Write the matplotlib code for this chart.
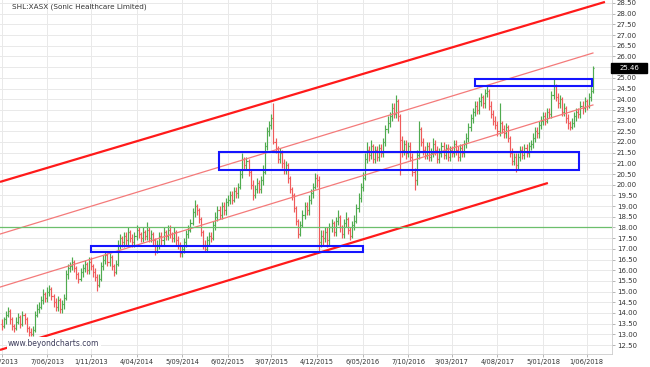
import matplotlib
matplotlib.use("Agg")
import matplotlib.pyplot as plt
import matplotlib.transforms as mtransforms
from matplotlib.patches import Rectangle
from matplotlib.collections import LineCollection
import numpy as np
import pandas as pd

plt.rcParams['font.family'] = ['DejaVu Sans']

# ---------------- data (weekly bars, SHL:XASX) ----------------
first_week = '2013-01-04'
close = [
    13.4, 13.7, 13.9, 14.1, 13.7, 13.4, 13.3, 13.6, 13.8, 13.5,
    13.9, 13.7, 13.3, 13.1, 13.0, 13.2, 13.9, 14.2, 14.3, 14.6,
    14.9, 14.7, 15.0, 15.1, 14.8, 14.5, 14.3, 14.6, 14.2, 14.4,
    14.7, 15.8, 16.1, 16.2, 16.4, 16.1, 15.8, 15.6, 15.9, 16.1,
    16.3, 16.0, 16.4, 16.2, 15.9, 15.7, 15.3, 15.6, 16.2, 16.5,
    16.7, 16.4, 16.6, 16.2, 15.9, 16.3, 17.2, 17.5, 17.3, 17.6,
    17.4, 17.8, 17.5, 17.3, 17.6, 17.9, 17.7, 17.5, 17.8, 17.6,
    17.9, 17.5, 17.7, 17.4, 16.9, 17.2, 17.6, 17.4, 17.8, 17.6,
    17.9, 17.7, 17.5, 17.8, 17.4, 17.2, 16.8, 17.0, 17.3, 17.7,
    17.9, 18.2, 18.7, 19.0, 18.8, 18.4, 17.8, 17.2, 17.0, 17.4,
    17.6, 17.5, 18.1, 18.5, 18.8, 18.6, 19.0, 18.8, 19.2, 19.3,
    19.5, 19.3, 19.7, 19.6, 19.9, 20.5, 21.2, 20.9, 21.1, 20.6,
    20.0, 19.5, 19.8, 20.1, 19.8, 20.2, 20.6, 21.8, 22.5, 22.8,
    23.1, 22.0, 21.7, 21.2, 21.5, 21.0, 20.7, 20.9, 20.3, 19.8,
    19.5, 18.9, 18.3, 17.7, 18.1, 18.6, 19.0, 18.8, 19.3, 19.6,
    19.9, 20.3, 20.2, 17.3, 17.6, 17.5, 17.8, 17.4, 18.0, 18.2,
    17.8, 18.3, 18.5, 18.0, 17.7, 18.2, 18.4, 17.9, 17.6, 18.1,
    18.3, 18.9, 19.4, 19.9, 20.3, 21.2, 21.6, 21.4, 21.8, 21.2,
    21.6, 21.3, 21.7, 21.5, 22.0, 22.6, 22.9, 23.2, 23.6, 23.3,
    23.9, 23.2, 22.1, 21.6, 21.9, 21.5, 21.8, 21.3, 20.6, 20.2,
    21.4, 22.6, 22.0, 21.6, 21.4, 21.8, 21.3, 21.5, 21.9, 21.6,
    21.2, 21.5, 21.8, 21.4, 21.7, 21.3, 21.6, 21.5, 21.9, 21.6,
    21.3, 21.7, 21.5, 21.9, 22.2, 22.7, 23.1, 23.4, 23.7, 23.5,
    23.9, 24.1, 23.8, 24.3, 24.4, 23.7, 23.3, 23.0, 22.8, 22.5,
    22.9, 22.6, 22.4, 22.7, 22.2, 21.5, 21.1, 21.3, 20.9, 21.3,
    21.6, 21.4, 21.7, 21.5, 21.8, 21.9, 22.2, 22.5, 22.4, 22.8,
    23.0, 23.2, 23.0, 23.4, 23.3, 24.2, 24.6, 24.1, 23.8, 24.0,
    23.4, 23.6, 23.1, 22.9, 22.7, 22.9, 23.2, 23.4, 23.3, 23.7,
    23.6, 23.9, 23.7, 24.1, 24.4, 25.46,
]
high = [
    13.7, 13.8, 14.1, 14.3, 14.2, 13.8, 13.5, 13.8, 14.0, 13.9,
    14.1, 14.0, 13.8, 13.4, 13.3, 13.4, 14.1, 14.4, 14.5, 14.8,
    15.1, 15.0, 15.2, 15.3, 15.2, 14.9, 14.7, 14.8, 14.7, 14.6,
    14.9, 16.0, 16.3, 16.4, 16.6, 16.5, 16.2, 15.9, 16.1, 16.3,
    16.5, 16.4, 16.6, 16.6, 16.3, 16.1, 15.8, 15.8, 16.4, 16.7,
    16.9, 16.8, 16.8, 16.7, 16.3, 16.5, 17.4, 17.7, 17.6, 17.8,
    17.8, 18.0, 17.9, 17.7, 17.8, 18.1, 18.0, 17.8, 18.0, 17.9,
    18.25, 18.0, 17.9, 17.8, 17.5, 17.4, 17.8, 17.8, 18.0, 17.9,
    18.1, 18.1, 17.8, 18.0, 17.9, 17.6, 17.3, 17.2, 17.5, 17.9,
    18.1, 18.4, 18.9, 19.3, 19.1, 18.9, 18.5, 17.9, 17.4, 17.6,
    17.8, 17.8, 18.3, 18.7, 19.0, 19.0, 19.2, 19.2, 19.4, 19.5,
    19.7, 19.7, 19.9, 19.9, 20.1, 20.7, 21.5, 21.3, 21.3, 21.2,
    20.7, 20.2, 20.0, 20.3, 20.2, 20.4, 20.9, 22.0, 22.7, 23.0,
    23.3, 23.8, 22.2, 21.8, 21.7, 21.6, 21.2, 21.1, 21.0, 20.4,
    19.9, 19.6, 19.0, 18.4, 18.3, 18.8, 19.2, 19.2, 19.5, 19.8,
    20.1, 20.55, 20.5, 20.4, 17.9, 17.9, 18.0, 18.0, 18.2, 18.4,
    18.3, 18.5, 18.8, 18.6, 18.1, 18.4, 18.7, 18.5, 18.0, 18.3,
    18.6, 19.1, 19.6, 20.1, 20.6, 21.5, 22.0, 21.8, 22.1, 21.9,
    21.8, 21.8, 21.9, 21.9, 22.2, 22.8, 23.2, 23.4, 23.8, 23.8,
    24.2, 24.0, 23.3, 22.3, 22.1, 22.1, 22.0, 22.0, 21.5, 20.8,
    21.6, 23.0, 22.7, 22.2, 21.8, 22.0, 22.0, 21.7, 22.2, 22.1,
    21.8, 21.7, 22.0, 22.0, 21.9, 21.9, 21.8, 21.8, 22.1, 22.1,
    21.8, 21.9, 21.9, 22.1, 22.4, 22.9, 23.3, 23.6, 23.9, 23.9,
    24.1, 24.3, 24.2, 24.5, 24.6, 24.5, 23.9, 23.5, 23.2, 23.0,
    23.8, 23.0, 22.8, 22.9, 22.8, 22.3, 21.7, 21.5, 21.5, 21.5,
    21.8, 21.8, 21.9, 21.9, 22.0, 22.1, 22.4, 22.7, 22.7, 23.0,
    23.2, 23.4, 23.4, 23.6, 23.6, 24.4, 24.95, 24.7, 24.3, 24.2,
    24.1, 23.8, 23.7, 23.3, 23.0, 23.1, 23.4, 23.6, 23.6, 23.9,
    23.9, 24.1, 24.0, 24.3, 24.6, 25.55,
]
low = [
    13.2, 13.3, 13.5, 13.8, 13.5, 13.2, 13.1, 13.2, 13.5, 13.3,
    13.4, 13.5, 13.1, 12.9, 12.9, 12.9, 13.1, 13.8, 14.0, 14.2,
    14.4, 14.5, 14.5, 14.8, 14.6, 14.3, 14.1, 14.1, 14.0, 14.0,
    14.2, 14.6, 15.6, 15.9, 16.0, 15.9, 15.6, 15.4, 15.5, 15.7,
    15.9, 15.8, 15.8, 16.0, 15.7, 15.5, 15.05, 15.2, 15.5, 16.0,
    16.3, 16.2, 16.2, 16.0, 15.75, 15.8, 16.2, 17.0, 17.1, 17.1,
    17.2, 17.2, 17.3, 17.1, 17.1, 17.4, 17.5, 17.3, 17.3, 17.4,
    17.4, 17.3, 17.3, 17.2, 16.7, 16.8, 17.0, 17.2, 17.2, 17.4,
    17.4, 17.5, 17.3, 17.3, 17.2, 17.0, 16.6, 16.6, 16.8, 17.1,
    17.5, 17.8, 18.1, 18.5, 18.6, 18.2, 17.6, 17.0, 16.9, 16.9,
    17.2, 17.3, 17.4, 17.9, 18.3, 18.4, 18.4, 18.6, 18.6, 19.0,
    19.1, 19.1, 19.2, 19.4, 19.4, 19.8, 20.3, 20.7, 20.7, 20.4,
    19.8, 19.3, 19.4, 19.6, 19.6, 19.6, 20.0, 20.5, 21.6, 22.3,
    22.6, 21.9, 21.5, 21.0, 21.0, 20.8, 20.5, 20.5, 20.1, 19.6,
    19.3, 18.7, 18.1, 17.5, 17.6, 18.0, 18.4, 18.6, 18.6, 19.1,
    19.4, 19.8, 19.9, 16.85, 17.1, 17.2, 17.3, 17.1, 17.2, 17.8,
    17.6, 17.6, 18.1, 17.8, 17.5, 17.5, 18.0, 17.7, 17.4, 17.5,
    17.9, 18.2, 18.7, 19.2, 19.7, 20.2, 21.0, 21.1, 21.2, 21.0,
    21.0, 21.1, 21.1, 21.3, 21.3, 21.8, 22.4, 22.7, 23.0, 23.1,
    23.1, 23.0, 20.45, 21.3, 21.4, 21.2, 21.3, 21.1, 20.4, 19.75,
    20.0, 21.2, 21.8, 21.4, 21.2, 21.2, 21.1, 21.1, 21.3, 21.4,
    21.0, 21.0, 21.3, 21.2, 21.2, 21.1, 21.1, 21.3, 21.3, 21.4,
    21.1, 21.1, 21.3, 21.3, 21.7, 22.0, 22.5, 22.9, 23.2, 23.3,
    23.3, 23.7, 23.6, 23.6, 24.1, 23.5, 23.1, 22.8, 22.6, 22.3,
    22.3, 22.4, 22.2, 22.2, 22.0, 21.3, 20.9, 20.9, 20.6, 20.7,
    21.1, 21.2, 21.2, 21.3, 21.3, 21.6, 21.7, 22.0, 22.2, 22.2,
    22.6, 22.8, 22.8, 22.9, 23.1, 23.1, 24.0, 23.9, 23.6, 23.6,
    23.2, 23.2, 22.9, 22.6, 22.55, 22.6, 22.7, 23.0, 23.1, 23.1,
    23.3, 23.4, 23.5, 23.6, 23.9, 24.3,
]
first_open = 13.5

tick_dates = ['4/01/2013', '7/06/2013', '1/11/2013', '4/04/2014', '5/09/2014',
              '6/02/2015', '3/07/2015', '4/12/2015', '6/05/2016', '7/10/2016',
              '3/03/2017', '4/08/2017', '5/01/2018', '1/06/2018']
y_ticks = np.arange(12.5, 28.51, 0.5)

# trend channel lines: (bar position, price) end points
chan_upper_thick = ([-0.82, 290.8], [20.13, 28.55])
chan_lower_thick = ([-0.82, 263.3], [12.27, 20.08])
chan_upper_thin = ([-0.82, 285.0], [17.69, 26.16])
chan_lower_thin = ([-0.82, 285.0], [15.21, 23.73])
support_level = 18.0
# zones: (start bar, end bar, low price, high price)
zones = [(43.1, 174.2, 16.87, 17.15),
         (104.8, 278.3, 20.69, 21.52),
         (228.2, 284.5, 24.62, 24.93)]
last_price = 25.46

# ---------------- figure ----------------
W, H = 650, 367
fig = plt.figure(figsize=(W / 100, H / 100), dpi=100)
ax = fig.add_axes([0, 1 - 354 / H, 612 / W, 354 / H])
ax.set_facecolor('white')

dates = pd.date_range(first_week, periods=len(close), freq='7D')
x = np.arange(len(close))
opens = [first_open] + close[:-1]

up_col, dn_col = '#4fab4f', '#f05a5a'
segs_up, segs_dn = [], []
for i in x:
    o, c, h, l = opens[i], close[i], high[i], low[i]
    segs = [[(i, l), (i, h)], [(i - 0.5, o), (i, o)], [(i, c), (i + 0.5, c)]]
    (segs_up if c >= o else segs_dn).extend(segs)
ax.add_collection(LineCollection(segs_up, colors=up_col, linewidths=0.85, zorder=3))
ax.add_collection(LineCollection(segs_dn, colors=dn_col, linewidths=0.85, zorder=3))

# channel / support lines
ax.plot(*chan_upper_thick, color='#ff1a1a', lw=1.6, zorder=4, solid_capstyle='butt')
ax.plot(*chan_lower_thick, color='#ff1a1a', lw=1.6, zorder=4, solid_capstyle='butt')
ax.plot(*chan_upper_thin, color='#f47a7a', lw=0.9, zorder=4)
ax.plot(*chan_lower_thin, color='#f47a7a', lw=0.9, zorder=4)
ax.axhline(support_level, color='#6cbf6c', lw=0.9, zorder=4)

for x0, x1, y0, y1 in zones:
    ax.add_patch(Rectangle((x0, y0), x1 - x0, y1 - y0, fill=False,
                           edgecolor='#1515ff', lw=1.5, zorder=5))

# axes
ax.set_xlim(-0.82, 294.2)
ax.set_ylim(12.08, 28.64)
tick_pos = dates.searchsorted(pd.to_datetime(tick_dates, dayfirst=True))
ax.set_xticks(tick_pos)
ax.set_xticklabels(tick_dates)
ax.set_yticks(y_ticks)
# the label hidden behind the last-price box is left blank
ax.set_yticklabels(['' if abs(v - last_price) < 0.25 else f'{v:.2f}' for v in y_ticks])
ax.yaxis.tick_right()
ax.tick_params(axis='y', labelsize=5.0, length=2, width=0.5, color='#999999',
               labelcolor='#333333', pad=1.5)
ax.tick_params(axis='x', labelsize=4.8, length=2, width=0.5, color='#999999',
               labelcolor='#333333', pad=1.5)
ax.grid(True, color='#e9e9e9', lw=0.7, zorder=0)
ax.set_axisbelow(True)
for s in ['top', 'left']:
    ax.spines[s].set_visible(False)
for s in ['right', 'bottom']:
    ax.spines[s].set_color('#cccccc')
    ax.spines[s].set_linewidth(0.6)

# texts
ax.text(12 / 612, 1 - 7 / 354, 'SHL:XASX (Sonic Healthcare Limited)', transform=ax.transAxes,
        fontsize=5.2, color='#333333', va='center', ha='left', zorder=6)
ax.text(8 / 612, 11 / 354, 'www.beyondcharts.com', transform=ax.transAxes,
        fontsize=5.5, color='#3d3d5c', va='center', ha='left', zorder=6,
        bbox=dict(facecolor='white', edgecolor='none', pad=1.0))

# last-price marker box
trans = mtransforms.blended_transform_factory(ax.transAxes, ax.transData)
box_h = 10 / 21.375
ax.add_patch(Rectangle((611 / 612, last_price - box_h / 2), 36 / 612, box_h,
                       transform=trans, facecolor='black', edgecolor='black',
                       zorder=10, clip_on=False))
ax.text(629 / 612, last_price, f'{last_price:.2f}', transform=trans, fontsize=5.0,
        color='white', va='center', ha='center', zorder=11, clip_on=False)

fig.savefig('out.png', dpi=100)
